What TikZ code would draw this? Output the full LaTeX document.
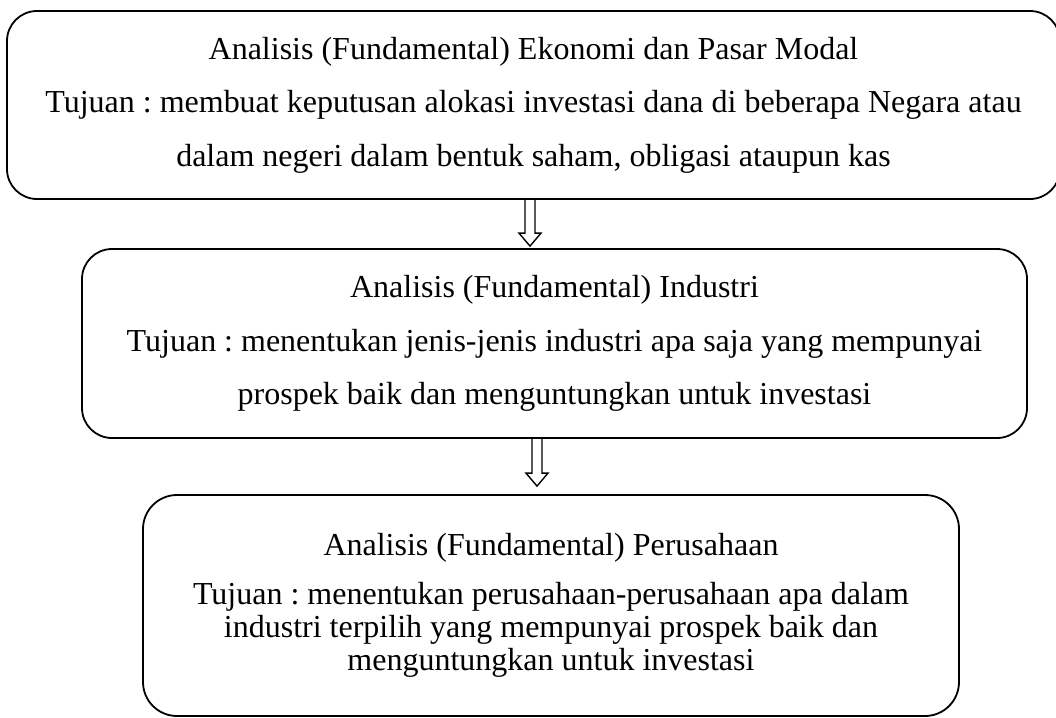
\documentclass[tikz,border=0pt]{standalone}
\usepackage{fontspec}
\setmainfont{Liberation Serif}
\usetikzlibrary{calc}
\frenchspacing

% panah blok berongga: #1 pangkal, #2 ujung
\newcommand{\panahblok}[2]{%
  \draw[panah] let \p1=#1, \p2=#2 in
    (\x1-2.5pt,\y1) -- (\x1-2.5pt,\y2+6.5pt) -- (\x1-5.5pt,\y2+6.5pt)
    -- (\x2,\y2) -- (\x1+5.5pt,\y2+6.5pt) -- (\x1+2.5pt,\y2+6.5pt)
    -- (\x1+2.5pt,\y1);}

\begin{document}
\begin{tikzpicture}[
    x=0.5pt,
    y=-0.5pt,
    kotak/.style={draw,line width=0.9pt,align=center,inner sep=0pt},
    longgar/.style={font=\fontsize{16}{26.8}\selectfont},
    rapat/.style={font=\fontsize{16}{16.5}\selectfont},
    panah/.style={line width=0.7pt}
]
    \useasboundingbox (0,0) rectangle (1056,718);

    % Tingkat analisis
    \node[kotak,longgar,rounded corners=15pt,
          minimum width=526.5pt,minimum height=94pt] (ekonomi) at (533.5,105)
        {Analisis (Fundamental) Ekonomi dan Pasar Modal\\
         Tujuan : membuat keputusan alokasi investasi dana di beberapa Negara atau\\
         dalam negeri dalam bentuk saham, obligasi ataupun kas};

    \node[kotak,longgar,rounded corners=15pt,
          minimum width=472.5pt,minimum height=94.5pt] (industri) at (554.5,343.5)
        {Analisis (Fundamental) Industri\\
         Tujuan : menentukan jenis-jenis industri apa saja yang mempunyai\\
         prospek baik dan menguntungkan untuk investasi};

    \node[kotak,rapat,rounded corners=17pt,
          minimum width=408pt,minimum height=110.5pt] (perusahaan) at (551,605.5)
        {Analisis (Fundamental) Perusahaan\\[8pt]
         Tujuan : menentukan perusahaan-perusahaan apa dalam\\
         industri terpilih yang mempunyai prospek baik dan\\
         menguntungkan untuk investasi};

    % Panah antar tingkat
    \coordinate (x1) at (530,0);
    \coordinate (x2) at (537,0);
    \panahblok{(x1 |- ekonomi.south)}{($(x1 |- industri.north)+(0,-2)$)}
    \panahblok{(x2 |- industri.south)}{($(x2 |- perusahaan.north)+(0,-8)$)}
\end{tikzpicture}
\end{document}
